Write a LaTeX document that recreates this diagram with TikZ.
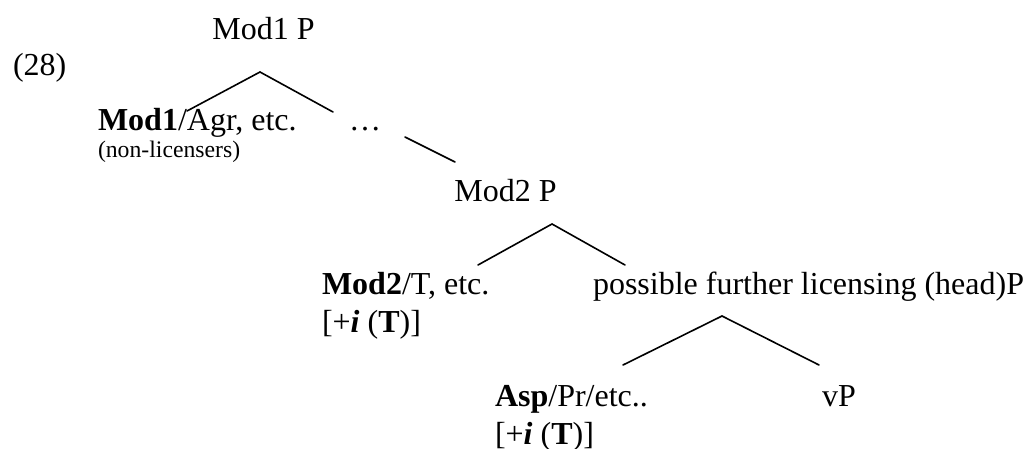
\documentclass[tikz,border=0pt]{standalone}
\usepackage{fontspec}
\setmainfont{Liberation Serif}
\tikzset{
  lab/.style={inner sep=0pt, outer sep=0pt, anchor=base west,
              font=\fontsize{32}{38}\selectfont},
  labc/.style={lab, anchor=base},
  small/.style={lab, font=\fontsize{23.7}{28}\selectfont},
  branch/.style={draw=black, line width=1.6pt, line cap=round}
}
\newcommand{\plusiT}{[+\textbf{\textit{i}} (\textbf{T})]}
\begin{document}
\begin{tikzpicture}[x=1pt, y=-1pt]
  \useasboundingbox (0,0) rectangle (1030,449);

  % example number
  \node[lab] (exnum) at (13,76) {(28)};

  % top projection
  \node[labc] (mod1p) at (263.5,40) {Mod1 P};
  \node[lab] (mod1head) at (98,131) {\textbf{Mod1}/Agr, etc.};
  \node[small] (mod1note) at (98,158) {(non-licensers)};
  \node[lab] (dots) at (349,131) {…};

  % middle projection
  \node[labc] (mod2p) at (505.5,201) {Mod2 P};
  \node[lab] (mod2head) at (322,294) {\textbf{Mod2}/T, etc.};
  \node[lab] (mod2feat) at (322,332) {\plusiT};
  \node[lab] (furtherp) at (593,294) {possible further licensing (head)P};

  % lowest projection
  \node[lab] (asphead) at (495,406) {\textbf{Asp}/Pr/etc..};
  \node[lab] (aspfeat) at (495,444) {\plusiT};
  \node[lab] (vp) at (822,406) {vP};

  % branch end points
  \coordinate (t1) at (260,72);
  \coordinate (t1l) at (187,111);
  \coordinate (t1r) at (333,112);
  \coordinate (d1) at (405,137);
  \coordinate (d2) at (455,162);
  \coordinate (t2) at (552,224);
  \coordinate (t2l) at (478,265);
  \coordinate (t2r) at (625,265);
  \coordinate (t3) at (722,316);
  \coordinate (t3l) at (623,365);
  \coordinate (t3r) at (819,365);

  % branches
  \draw[branch] (t1l) -- (t1) -- (t1r);
  \draw[branch] (d1) -- (d2);
  \draw[branch] (t2l) -- (t2) -- (t2r);
  \draw[branch] (t3l) -- (t3) -- (t3r);
\end{tikzpicture}
\end{document}
